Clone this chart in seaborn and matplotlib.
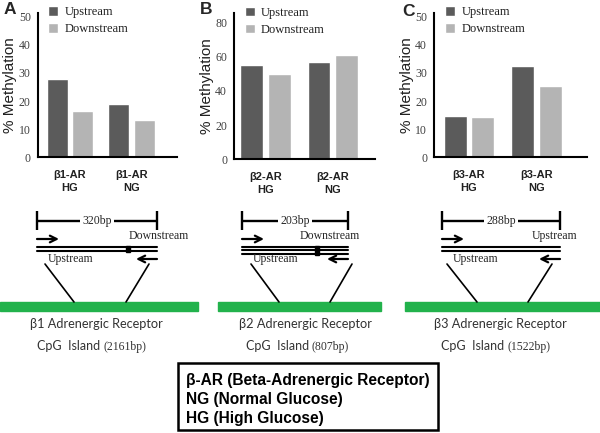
import matplotlib
matplotlib.use("Agg")
import matplotlib.pyplot as plt
from matplotlib.patches import Rectangle
import seaborn as sns
import pandas as pd

# --- data ---
regions = ["Upstream", "Downstream"]

groups_b1 = ["β1-AR\nHG", "β1-AR\nNG"]
upstream_b1 = [28.0, 19.0]
downstream_b1 = [16.4, 13.1]

groups_b2 = ["β2-AR\nHG", "β2-AR\nNG"]
upstream_b2 = [55.0, 57.0]
downstream_b2 = [49.8, 60.8]

groups_b3 = ["β3-AR\nHG", "β3-AR\nNG"]
upstream_b3 = [14.6, 32.6]
downstream_b3 = [14.3, 25.5]

yticks_b1 = [0, 10, 20, 30, 40, 50]
yticks_b2 = [0, 20, 40, 60, 80]
yticks_b3 = [0, 10, 20, 30, 40, 50]

amplicons = ["320bp", "203bp", "288bp"]
receptors = ["β1 Adrenergic Receptor", "β2 Adrenergic Receptor", "β3 Adrenergic Receptor"]
island_sizes = ["(2161bp)", "(807bp)", "(1522bp)"]
top_labels = ["Downstream", "Downstream", "Upstream"]
key_lines = ["β-AR (Beta-Adrenergic Receptor)", "NG (Normal Glucose)", "HG (High Glucose)"]

palette = {"Upstream": "#5b5b5b", "Downstream": "#b4b4b4"}

W, H = 600, 433
sns.set_theme(style="white")
plt.rcParams["font.family"] = ["Liberation Sans", "DejaVu Sans"]

fig = plt.figure(figsize=(W / 100, H / 100), dpi=100)

# overlay in pixel coords for the schematic
ov = fig.add_axes([0, 0, 1, 1])
ov.set_xlim(0, W)
ov.set_ylim(H, 0)
ov.axis("off")


def px_axes(left, top, right, bottom):
    return fig.add_axes([left / W, 1 - bottom / H, (right - left) / W, (bottom - top) / H])


def bar_panel(box, groups, up, down, yticks, ylim, xlim, letter, letter_xy):
    ax = px_axes(*box)
    df = pd.DataFrame({
        "group": groups * 2,
        "region": ["Upstream"] * len(groups) + ["Downstream"] * len(groups),
        "value": up + down,
    })
    sns.barplot(data=df, x="group", y="value", hue="region", hue_order=regions,
                palette=palette, width=0.82, gap=0.17, ax=ax, saturation=1, errorbar=None)
    ax.set_xlim(*xlim)
    ax.set_ylim(*ylim)
    ax.set_yticks(yticks)
    ax.set_yticklabels([str(t) for t in yticks], fontsize=8.5, color="#404040",
                       family=["Liberation Serif"])
    ax.tick_params(axis="both", length=0)
    ax.tick_params(axis="y", pad=5)
    ax.tick_params(axis="x", pad=9)
    for lab in ax.get_xticklabels():
        lab.set_fontsize(8)
        lab.set_fontweight("bold")
        lab.set_color("#202020")
        lab.set_linespacing(1.45)
    ax.set_xlabel("")
    ax.set_ylabel("% Methylation", fontsize=11, color="#202020", labelpad=1)
    for s in ["top", "right"]:
        ax.spines[s].set_visible(False)
    for s in ["left", "bottom"]:
        ax.spines[s].set_color("black")
        ax.spines[s].set_linewidth(1.5)
    leg = ax.legend(frameon=False, loc="upper left", bbox_to_anchor=(0.04, 1.08),
                    borderaxespad=0, handlelength=0.8, handleheight=0.8,
                    handletextpad=0.5, labelspacing=0.4,
                    prop={"family": "Liberation Serif", "size": 9})
    for t in leg.get_texts():
        t.set_color("#202020")
    fig.text(letter_xy[0] / W, 1 - letter_xy[1] / H, letter, fontsize=12.5,
             fontweight="bold", ha="left", va="center")
    return ax


bar_panel((37.7, 12.7, 177, 157.3), groups_b1, upstream_b1, downstream_b1,
          yticks_b1, (0, 51.4), (-0.525, 1.74), "A", (4, 10))
bar_panel((234, 13.3, 375, 159.3), groups_b2, upstream_b2, downstream_b2,
          yticks_b2, (0, 85.5), (-0.47, 1.63), "B", (200, 10))
bar_panel((434, 12.7, 587, 157.3), groups_b3, upstream_b3, downstream_b3,
          yticks_b3, (0, 51.4), (-0.52, 1.75), "C", (402, 11))


def schematic(x0, x1, top_label, top_label_x, square_x, n_lines, amp, receptor, size,
              green, diag_top, diag_bot, txt_cx):
    k = dict(color="black", lw=1.7, solid_capstyle="butt")
    # size bracket
    ov.plot([x0, x1], [221, 221], **k)
    ov.plot([x0, x0], [211, 230], **k)
    ov.plot([x1, x1], [211, 230], **k)
    ov.text((x0 + x1) / 2, 221, amp, ha="center", va="center", fontsize=8.5,
            family="Liberation Serif", bbox=dict(facecolor="white", edgecolor="none", pad=1.5))
    # strands
    ys = [247, 251] if n_lines == 2 else [246.5, 250, 253.5]
    for y in ys:
        ov.plot([x0, x1], [y, y], color="black", lw=1.5)
    if square_x is not None:
        ov.add_patch(Rectangle((square_x - 2, ys[0] - 1), 4, ys[-1] - ys[0] + 2, color="black"))
    # primers
    ov.annotate("", xy=(x0 + 22, 239), xytext=(x0, 239),
                arrowprops=dict(arrowstyle="->", lw=1.6, color="black", mutation_scale=12,
                                shrinkA=0, shrinkB=0))
    ov.annotate("", xy=(x1 - 21, 259), xytext=(x1, 259),
                arrowprops=dict(arrowstyle="->", lw=1.6, color="black", mutation_scale=12,
                                shrinkA=0, shrinkB=0))
    ov.text(top_label_x, 236, top_label, ha="left", va="center", fontsize=8.5,
            family="Liberation Serif")
    ov.text(x0 + 11, 259, "Upstream", ha="left", va="center", fontsize=8.5,
            family="Liberation Serif")
    # lines down to the island
    ov.plot([diag_top[0], diag_bot[0]], [264, 302], color="black", lw=1.2)
    ov.plot([diag_top[1], diag_bot[1]], [264, 302], color="black", lw=1.2)
    ov.add_patch(Rectangle((green[0], 301.5), green[1] - green[0], 9.5, color="#22b24c"))
    ov.text(txt_cx, 324, receptor, ha="center", va="center", fontsize=9.2,
            family=["Lato", "DejaVu Sans"], color="#333333")
    ov.text(txt_cx + 4, 346, "CpG  Island", ha="right", va="center", fontsize=9,
            family=["Lato", "DejaVu Sans"], color="#333333")
    ov.text(txt_cx + 7, 347, size, ha="left", va="center", fontsize=8.5,
            family="Liberation Serif", color="#333333")


schematic(37, 157, top_labels[0], 129, 128, 2, amplicons[0], receptors[0], island_sizes[0],
          (0, 198), (45, 149), (74, 126), 96)
schematic(242, 348, top_labels[1], 300, 317, 3, amplicons[1], receptors[1], island_sizes[1],
          (218, 381), (251, 352), (279, 330), 305)
schematic(442, 560, top_labels[2], 532, None, 2, amplicons[2], receptors[2], island_sizes[2],
          (405, 600), (447, 552), (477, 528), 500)

# abbreviation key
ov.add_patch(Rectangle((178, 363), 260, 67, facecolor="white", edgecolor="black", lw=1.8))
for i, line in enumerate(key_lines):
    ov.text(186, 380 + i * 19.5, line, ha="left", va="center", fontsize=11.2,
            fontweight="bold", color="black")

fig.savefig("out.png", dpi=100)
